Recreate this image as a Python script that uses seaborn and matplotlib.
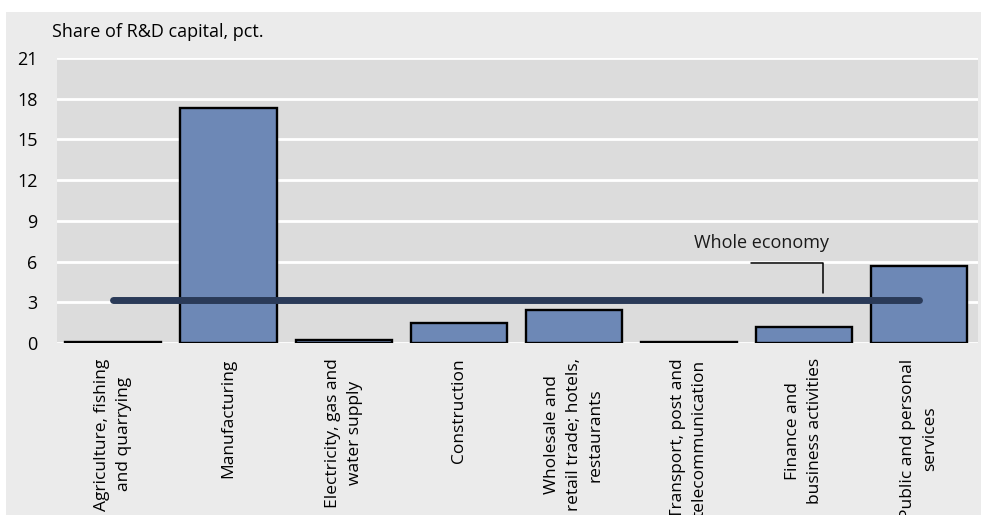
import matplotlib
matplotlib.use("Agg")
import matplotlib.pyplot as plt
from matplotlib.patches import Rectangle
import seaborn as sns
import pandas as pd

# Sector shares of R&D capital, percent
sectors = [
    "Agriculture, fishing\nand quarrying",
    "Manufacturing",
    "Electricity, gas and\nwater supply",
    "Construction",
    "Wholesale and\nretail trade; hotels,\nrestaurants",
    "Transport, post and\ntelecommunication",
    "Finance and\nbusiness activities",
    "Public and personal\nservices",
]
shares = [0.1, 17.3, 0.25, 1.5, 2.4, 0.1, 1.2, 5.7]
whole_economy = 3.2
y_ticks = [0, 3, 6, 9, 12, 15, 18, 21]

W, H = 981, 515
sns.set_theme(style="white")
plt.rcParams["font.family"] = ["Open Sans", "DejaVu Sans"]

fig = plt.figure(figsize=(W / 100, H / 100), dpi=100, facecolor="white")

# light outer panel
fig.patches.append(Rectangle((6 / W, 0), 1 - 6 / W, (H - 12) / H,
                             transform=fig.transFigure, facecolor="#ebebeb",
                             edgecolor="none", zorder=-5))

ax = fig.add_axes([57 / W, (H - 343) / H, (978 - 57) / W, (343 - 58) / H])
ax.set_zorder(2)
ax.set_facecolor("#dcdcdc")

df = pd.DataFrame({"sector": sectors, "share": shares})
sns.barplot(data=df, x="sector", y="share", color="#6d88b6", saturation=1,
            edgecolor="black", linewidth=1.7, width=0.835, ax=ax, zorder=3)

# whole-economy reference line across category centres
ax.plot([0, len(sectors) - 1], [whole_economy, whole_economy], color="#2a3a58",
        lw=5, solid_capstyle="round", zorder=5)

# annotation with leader line
ax.plot([5.54, 6.16, 6.16], [5.9, 5.9, whole_economy + 0.5], color="black",
        lw=1.1, zorder=4)
ax.text(5.63, 7.35, "Whole economy", ha="center", va="center", fontsize=13,
        color="#1a1a1a", zorder=6)

ax.set_ylim(0, 21)
ax.set_xlim(-0.49, len(sectors) - 0.49)
ax.set_yticks(y_ticks)
ax.yaxis.grid(True, color="white", lw=2)
ax.set_axisbelow(True)
for s in ax.spines.values():
    s.set_visible(False)

ax.set_xlabel("")
ax.set_ylabel("")
ax.tick_params(axis="y", length=0, pad=14, labelsize=13, labelcolor="black")
ax.tick_params(axis="x", length=0, pad=11, labelsize=12.5, labelcolor="black")
for lab in ax.get_xticklabels():
    lab.set_rotation(90)
    lab.set_ha("center")
    lab.set_va("top")
    lab.set_multialignment("center")
    lab.set_linespacing(1.5)

fig.text(52 / W, 1 - 23 / H, "Share of R&D capital, pct.", ha="left", va="top",
         fontsize=13, color="black")

fig.savefig("out.png", dpi=100, facecolor="white")
